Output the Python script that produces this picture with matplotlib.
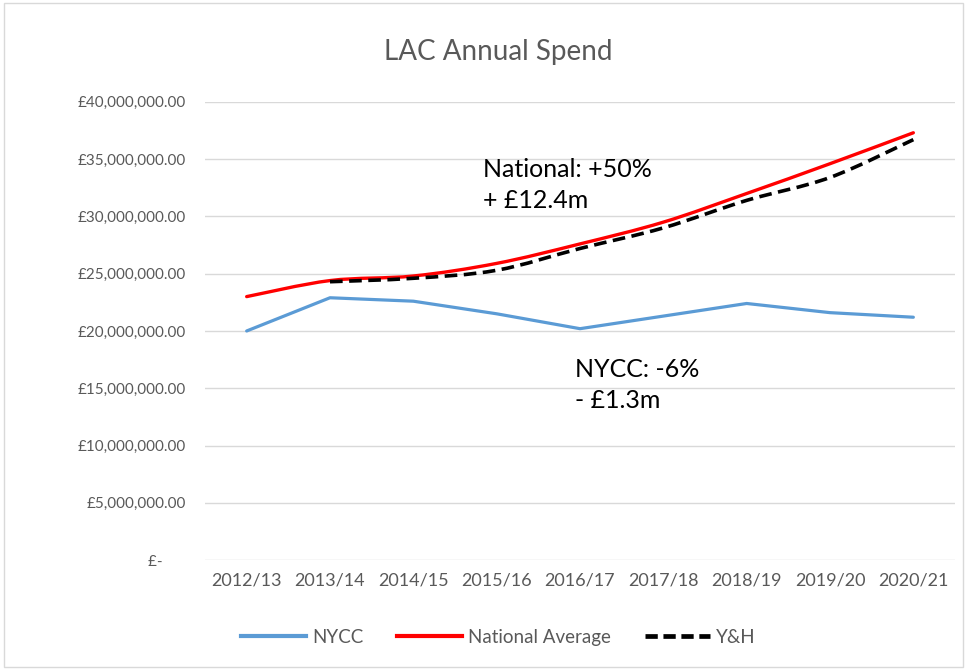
import numpy as np
import matplotlib.pyplot as plt
from matplotlib.path import Path
from matplotlib.patches import PathPatch, Rectangle
from matplotlib.lines import Line2D
from matplotlib.ticker import FuncFormatter

plt.rcParams['font.family'] = ['Lato', 'DejaVu Sans']

years = ["2012/13", "2013/14", "2014/15", "2015/16", "2016/17",
         "2017/18", "2018/19", "2019/20", "2020/21"]
nycc = [20.0, 22.9, 22.6, 21.5, 20.2, 21.3, 22.4, 21.6, 21.2]          # £m
national = [23.0, 24.4, 24.8, 25.9, 27.6, 29.5, 32.0, 34.6, 37.3]      # £m
yh_years = years[1:]
yh = [24.3, 24.6, 25.3, 27.2, 29.0, 31.4, 33.4, 36.7]                  # £m

grey = "#595959"


def smooth_path(xs, ys):
    # Excel-style smoothed line: Catmull-Rom through the points as cubic Beziers
    p = np.column_stack([xs, ys]).astype(float)
    ext = np.vstack([p[0], p, p[-1]])
    verts = [p[0]]
    codes = [Path.MOVETO]
    for i in range(len(p) - 1):
        p0, p1, p2, p3 = ext[i], ext[i + 1], ext[i + 2], ext[i + 3]
        c1 = p1 + (p2 - p0) / 6
        c2 = p2 - (p3 - p1) / 6
        verts += [c1, c2, p2]
        codes += [Path.CURVE4] * 3
    return Path(verts, codes)


fig = plt.figure(figsize=(9.67, 6.7), dpi=100)
ax = fig.add_axes([0.212, 0.164, 0.7756, 0.684])

x = np.arange(len(years))
xy = np.arange(len(years) - len(yh_years), len(years))
ax.plot(x, np.array(nycc) * 1e6, color="#5b9bd5", lw=2.3, solid_capstyle="round")
ax.add_patch(PathPatch(smooth_path(x, np.array(national) * 1e6), fill=False,
                       edgecolor="#ff0000", lw=2.4, capstyle="round"))
ax.add_patch(PathPatch(smooth_path(xy, np.array(yh) * 1e6), fill=False,
                       edgecolor="black", lw=2.6, linestyle=(0, (3.5, 1.8))))

ax.set_xlim(-0.5, len(years) - 0.5)
ax.set_ylim(0, 40e6)
ax.set_yticks(np.arange(0, 40e6 + 1, 5e6))
ax.yaxis.set_major_formatter(FuncFormatter(
    lambda v, _: "£-      " if v == 0 else f"£{v:,.2f}"))
ax.set_xticks(x)
ax.set_xticklabels(years)
ax.tick_params(axis="y", length=0, labelsize=11, colors=grey, pad=14)
ax.tick_params(axis="x", length=0, labelsize=13, colors=grey, pad=9)
ax.grid(axis="y", color="#d9d9d9", lw=1)
ax.set_axisbelow(True)
for s in ax.spines.values():
    s.set_visible(False)

# annotations (baselines of each line)
ax.text(2.835, 33.45e6, "National: +50%", fontsize=18, color="black", va="baseline")
ax.text(2.835, 30.74e6, "+ £12.4m", fontsize=18, color="black", va="baseline")
ax.text(3.94, 15.98e6, "NYCC: -6%", fontsize=18, color="black", va="baseline")
ax.text(3.94, 13.28e6, "- £1.3m", fontsize=18, color="black", va="baseline")

fig.text(0.515, 0.91, "LAC Annual Spend", fontsize=20, color=grey,
         ha="center", va="baseline")

handles = [Line2D([], [], color="#5b9bd5", lw=3),
           Line2D([], [], color="#ff0000", lw=3),
           Line2D([], [], color="black", lw=3.4, linestyle=(0, (2.6, 1.2)))]
fig.legend(handles, ["NYCC", "National Average", "Y&H"], loc="center",
           bbox_to_anchor=(0.515, 0.049), ncol=3, frameon=False, fontsize=13.5,
           labelcolor=grey, handlelength=3.5, handletextpad=0.3,
           columnspacing=1.8)

fig.add_artist(Rectangle((0.004, 0.004), 0.992, 0.992, transform=fig.transFigure,
                         fill=False, edgecolor="#d9d9d9", lw=1))

fig.savefig("out.png", dpi=100)
